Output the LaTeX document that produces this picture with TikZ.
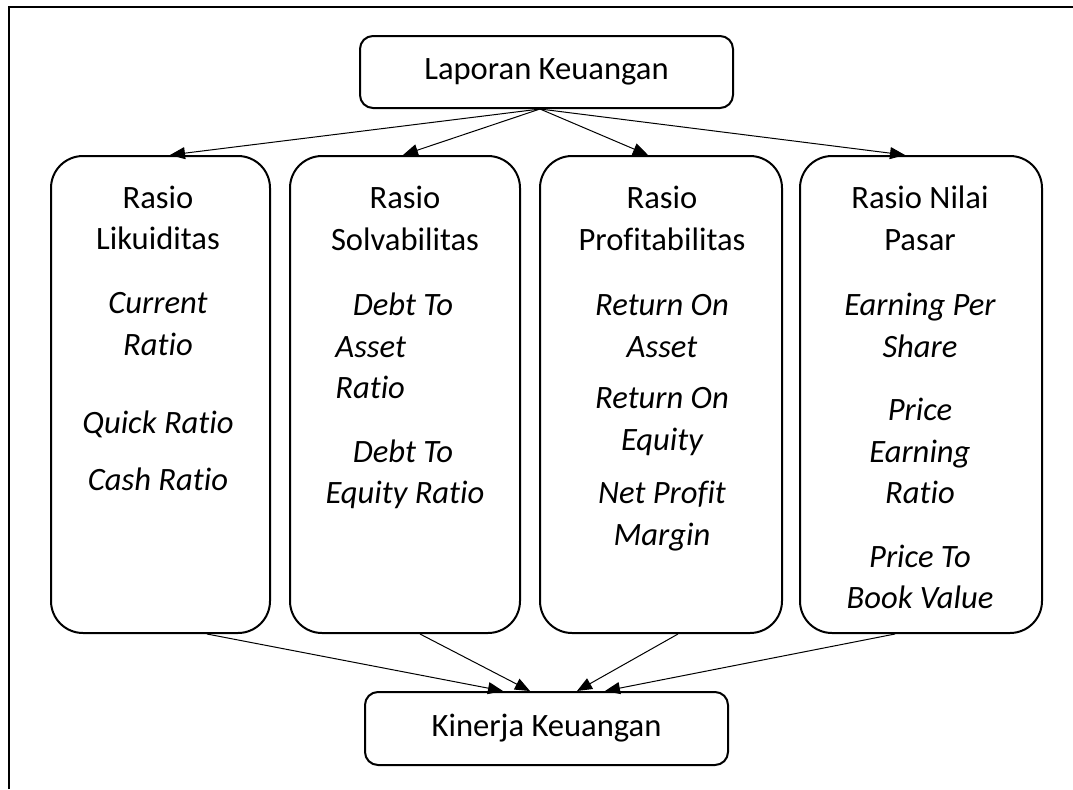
\documentclass[tikz,border=0pt]{standalone}
\usepackage{fontspec}
\setmainfont[Ligatures=NoCommon]{Carlito}
\usetikzlibrary{arrows.meta}

\tikzset{
    box/.style={draw, line width=1pt, inner sep=0pt, rounded corners=16pt},
    smallbox/.style={box, rounded corners=6.5pt, font=\fontsize{16.3}{20}\selectfont},
    head/.style={anchor=base, inner sep=0pt, font=\fontsize{16.3}{20}\selectfont},
    item/.style={head, font=\fontsize{16.3}{20}\selectfont\itshape},
    arr/.style={-{Triangle[length=7.5pt,width=6pt]}, line width=0.5pt}
}

\begin{document}
\begin{tikzpicture}[x=0.5pt,y=-0.5pt]
        \useasboundingbox (0,0) rectangle (1073,789);

        % the frame (only left and top edge are seen)
        \draw[line width=1pt] (9,789) -- (9,7) -- (1073,7);

        % top and bottom boxes
        \node[smallbox, minimum width=186.5pt, minimum height=36pt] (lap) at (546.5,72) {Laporan Keuangan};
        \node[smallbox, minimum width=181.5pt, minimum height=36.5pt] (kin) at (546.5,728.5) {Kinerja Keuangan};

        % the four ratio groups
        \node[box, minimum width=109.5pt, minimum height=238.5pt] (b1) at (160.5,394.5) {};
        \node[box, minimum width=115pt, minimum height=238.5pt] (b2) at (405,394.5) {};
        \node[box, minimum width=121pt, minimum height=238.5pt] (b3) at (661,394.5) {};
        \node[box, minimum width=121pt, minimum height=238.5pt] (b4) at (921,394.5) {};

        % texts of the first group
        \node[head] (h1a) at (158,208) {Rasio};
        \node[head] (h1b) at (158,249) {Likuiditas};
        \node[item] (i1a) at (158,313) {Current};
        \node[item] (i1b) at (158,355) {Ratio};
        \node[item] (i1c) at (158,433) {Quick Ratio};
        \node[item] (i1d) at (158,490) {Cash Ratio};

        % texts of the second group
        \node[head] (h2a) at (405,208) {Rasio};
        \node[head] (h2b) at (405,250) {Solvabilitas};
        \node[item] (i2a) at (403,315) {Debt To};
        \node[item, anchor=base west] (i2b) at (335,357) {Asset};
        \node[item, anchor=base west] (i2c) at (335,398) {Ratio};
        \node[item] (i2d) at (403,462) {Debt To};
        \node[item] (i2e) at (405,503) {Equity Ratio};

        % texts of the third group
        \node[head] (h3a) at (662,208) {Rasio};
        \node[head] (h3b) at (662,250) {Profitabilitas};
        \node[item] (i3a) at (662,315) {Return On};
        \node[item] (i3b) at (662,357) {Asset};
        \node[item] (i3c) at (662,408) {Return On};
        \node[item] (i3d) at (662,450) {Equity};
        \node[item] (i3e) at (662,503) {Net Profit};
        \node[item] (i3f) at (662,545) {Margin};

        % texts of the fourth group
        \node[head] (h4a) at (920,208) {Rasio Nilai};
        \node[head] (h4b) at (920,250) {Pasar};
        \node[item] (i4a) at (920,315) {Earning Per};
        \node[item] (i4b) at (920,357) {Share};
        \node[item] (i4c) at (920,420) {Price};
        \node[item] (i4d) at (920,462) {Earning};
        \node[item] (i4e) at (920,503) {Ratio};
        \node[item] (i4f) at (920,567) {Price To};
        \node[item] (i4g) at (920,608) {Book Value};

        % draw the arrows
        \coordinate (src) at ([xshift=-3.25pt]lap.south);
        \draw[arr] (src) -- ([xshift=4.75pt]b1.north);
        \draw[arr] (src) -- ([xshift=-1pt]b2.north);
        \draw[arr] (src) -- ([xshift=-6.5pt]b3.north);
        \draw[arr] (src) -- ([xshift=-8pt]b4.north);

        \draw[arr] ([xshift=23.25pt]b1.south) -- ([xshift=-21.75pt]kin.north);
        \draw[arr] ([xshift=7.5pt]b2.south) -- ([xshift=-8.25pt]kin.north);
        \draw[arr] ([xshift=8.5pt]b3.south) -- ([xshift=15.25pt]kin.north);
        \draw[arr] ([xshift=-13pt]b4.south) -- ([xshift=29.25pt]kin.north);

    \end{tikzpicture}
\end{document}
